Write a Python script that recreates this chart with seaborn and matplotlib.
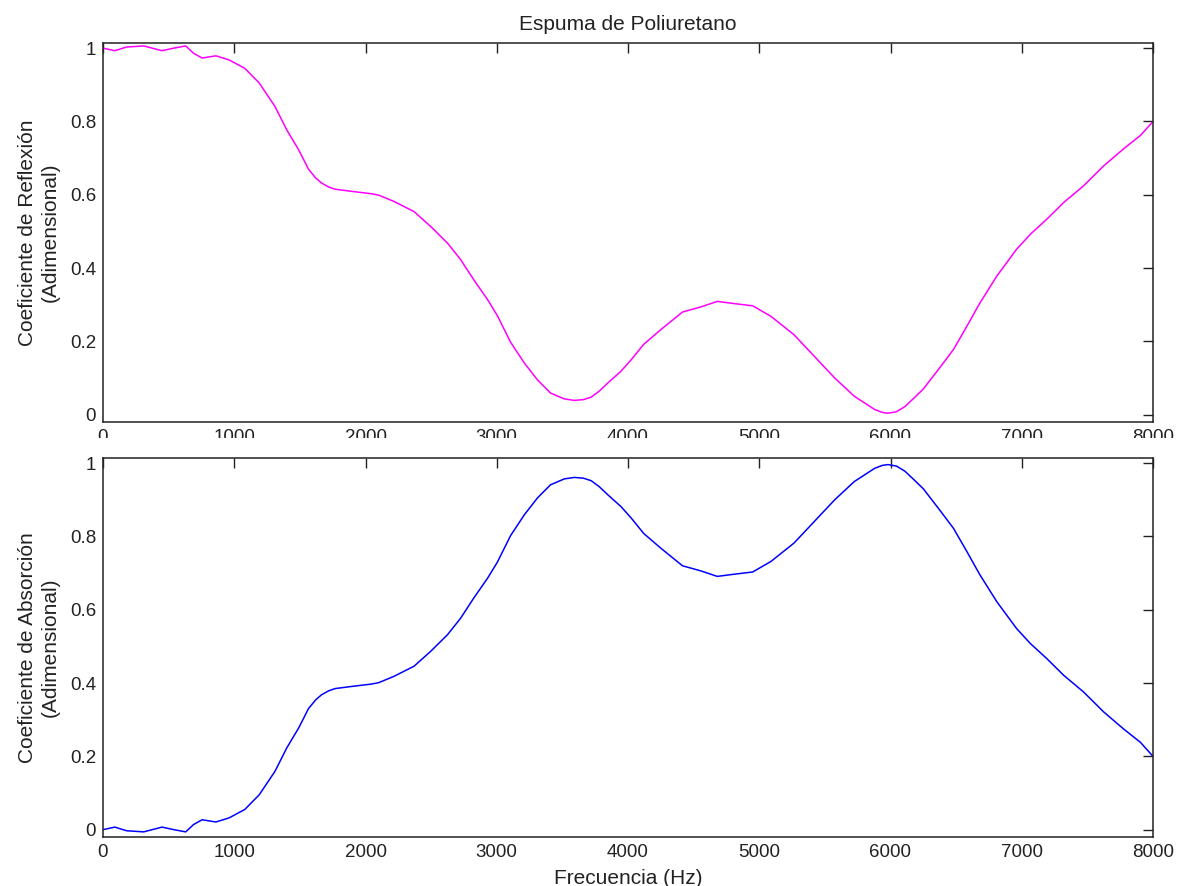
import matplotlib
matplotlib.use("Agg")
import matplotlib.pyplot as plt
import seaborn as sns
import pandas as pd
from matplotlib.patches import Rectangle

# ---- data ----
freq = [0, 90, 180, 310, 450, 540, 630, 690, 755, 860, 960, 1080, 1190, 1310,
        1400, 1490, 1530, 1565, 1620, 1665, 1720, 1770, 1900, 2040, 2100, 2215,
        2370, 2495, 2625, 2725, 2825, 2930, 3005, 3105, 3210, 3310, 3410, 3515,
        3590, 3660, 3720, 3780, 3845, 3945, 4025, 4120, 4250, 4415, 4555, 4680,
        4810, 4950, 5090, 5265, 5420, 5575, 5725, 5880, 5940, 5980, 6045, 6110,
        6175, 6250, 6375, 6480, 6580, 6680, 6810, 6960, 7065, 7190, 7320, 7470,
        7625, 7775, 7905, 8000]

reflexion = [1.000, 0.993, 1.003, 1.006, 0.993, 1.000, 1.006, 0.986, 0.973,
             0.979, 0.968, 0.945, 0.905, 0.841, 0.777, 0.723, 0.695, 0.670,
             0.646, 0.632, 0.621, 0.615, 0.609, 0.603, 0.599, 0.582, 0.554,
             0.514, 0.468, 0.423, 0.368, 0.314, 0.270, 0.198, 0.141, 0.095,
             0.059, 0.043, 0.039, 0.041, 0.048, 0.064, 0.086, 0.118, 0.150,
             0.192, 0.232, 0.280, 0.294, 0.309, 0.303, 0.297, 0.268, 0.218,
             0.159, 0.100, 0.050, 0.014, 0.006, 0.004, 0.008, 0.022, 0.044,
             0.070, 0.128, 0.178, 0.240, 0.304, 0.378, 0.451, 0.492, 0.533,
             0.579, 0.624, 0.679, 0.725, 0.762, 0.800]

absorcion = [0.000, 0.007, -0.003, -0.006, 0.007, 0.000, -0.006, 0.014, 0.027,
             0.021, 0.032, 0.055, 0.095, 0.159, 0.223, 0.277, 0.305, 0.330,
             0.354, 0.368, 0.379, 0.385, 0.391, 0.397, 0.401, 0.418, 0.446,
             0.486, 0.532, 0.577, 0.632, 0.686, 0.730, 0.802, 0.859, 0.905,
             0.941, 0.957, 0.961, 0.959, 0.952, 0.936, 0.914, 0.882, 0.850,
             0.808, 0.768, 0.720, 0.706, 0.691, 0.697, 0.703, 0.732, 0.782,
             0.841, 0.900, 0.950, 0.986, 0.994, 0.996, 0.992, 0.978, 0.956,
             0.930, 0.872, 0.822, 0.760, 0.696, 0.622, 0.549, 0.508, 0.467,
             0.421, 0.376, 0.321, 0.275, 0.238, 0.200]

xticks = [0, 1000, 2000, 3000, 4000, 5000, 6000, 7000, 8000]
yticks = [0, 0.2, 0.4, 0.6, 0.8, 1.0]
ytick_labels = ["0", "0.2", "0.4", "0.6", "0.8", "1"]

title = "Espuma de Poliuretano"
ylabel_top = "Coeficiente de Reflexión\n(Adimensional)"
ylabel_bot = "Coeficiente de Absorción\n(Adimensional)"
xlabel = "Frecuencia (Hz)"

# ---- style ----
sns.set_style("white")
plt.rcParams["font.family"] = ["Liberation Sans", "Arial", "DejaVu Sans"]
TXT = "#222222"

fig = plt.figure(figsize=(11.79, 8.86), dpi=100)
W, H = 1179, 886
def rect(l, t, r, b):
    return [l / W, 1 - b / H, (r - l) / W, (b - t) / H]

ax1 = fig.add_axes(rect(103, 43, 1153, 422), zorder=0)
ax2 = fig.add_axes(rect(103, 458, 1153, 837), zorder=2)

df1 = pd.DataFrame({"f": freq, "v": reflexion})
df2 = pd.DataFrame({"f": freq, "v": absorcion})
sns.lineplot(data=df1, x="f", y="v", ax=ax1, color=(1, 0, 1), linewidth=1.1)
sns.lineplot(data=df2, x="f", y="v", ax=ax2, color=(0, 0, 1), linewidth=1.1)

for ax, yl in ((ax1, ylabel_top), (ax2, ylabel_bot)):
    ax.set_xlim(0, 8000)
    ax.set_ylim(-0.02, 1.014)
    ax.set_xticks(xticks)
    ax.set_xticklabels([str(t) for t in xticks])
    ax.set_yticks(yticks)
    ax.set_yticklabels(ytick_labels)
    ax.tick_params(direction="in", length=7, width=1.0, colors="#222222",
                   labelcolor=TXT, labelsize=13.5, top=True, right=True,
                   pad=5)
    for s in ax.spines.values():
        s.set_visible(True)
        s.set_color("#222222")
        s.set_linewidth(1.1)
    ax.set_ylabel(yl, fontsize=15, color=TXT, labelpad=7, linespacing=1.3)
    ax.set_xlabel("")
    ax.grid(False)

ax1.set_title(title, fontsize=15, color=TXT, pad=9)
ax2.set_xlabel(xlabel, fontsize=15, color=TXT, labelpad=6)

# white band that clips the top panel's tick labels, as in the reference
fig.add_artist(Rectangle((0, 1 - 457 / H), 1, 19 / H, transform=fig.transFigure,
                         facecolor="white", edgecolor="none", zorder=1))

fig.savefig("out.png", dpi=100)
